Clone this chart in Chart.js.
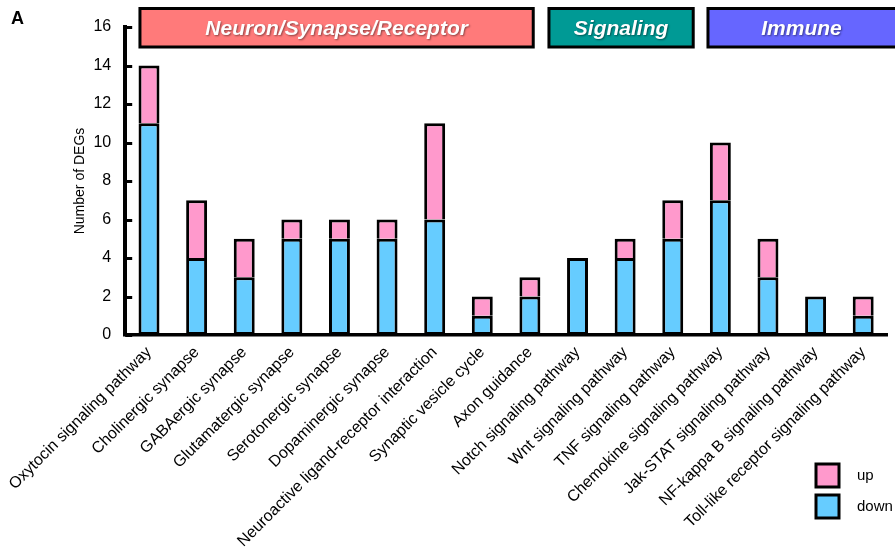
<!DOCTYPE html>
<html>
<head>
<meta charset="utf-8">
<script src="https://cdn.jsdelivr.net/npm/chart.js@4/dist/chart.umd.min.js"></script>
<style>
  html, body { margin: 0; padding: 0; background: #fff; }
  canvas { display: block; }
</style>
</head>
<body>
<canvas id="chart" width="895" height="554"></canvas>
<script>
// KEGG pathways and DEG counts per direction
const categories = [
  'Oxytocin signaling pathway',
  'Cholinergic synapse',
  'GABAergic synapse',
  'Glutamatergic synapse',
  'Serotonergic synapse',
  'Dopaminergic synapse',
  'Neuroactive ligand-receptor interaction',
  'Synaptic vesicle cycle',
  'Axon guidance',
  'Notch signaling pathway',
  'Wnt signaling pathway',
  'TNF signaling pathway',
  'Chemokine signaling pathway',
  'Jak-STAT signaling pathway',
  'NF-kappa B signaling pathway',
  'Toll-like receptor signaling pathway'
];
const downValues = [11, 4, 3, 5, 5, 5, 6, 1, 2, 4, 4, 5, 7, 3, 2, 1];
const upValues   = [3, 3, 2, 1, 1, 1, 5, 1, 1, 0, 1, 2, 3, 2, 0, 1];
const yTickValues = [0, 2, 4, 6, 8, 10, 12, 14, 16];

// Functional groups shown as banners above the bars (spans in category units)
const groupNames  = ['Neuron/Synapse/Receptor', 'Signaling', 'Immune'];
const groupStart  = [-0.19, 8.40, 11.74];
const groupEnd    = [8.07, 11.43, 15.80];
const groupColors = ['#FF7A7A', '#009A95', '#6666FF'];

const seriesNames = ['up', 'down'];
const upColor = '#FF99CC';
const downColor = '#66CCFF';
const FONT = '"Liberation Sans", Arial, Helvetica, sans-serif';

const PLOT_LEFT = 125, PLOT_TOP = 27, PLOT_BOTTOM = 335, PLOT_RIGHT = 887;

// Banners, inward y ticks, panel letter and legend
const decorations = {
  id: 'decorations',
  afterDraw(chart) {
    const ctx = chart.ctx;
    const x = chart.scales.x, y = chart.scales.y;
    const area = chart.chartArea;
    const x0 = x.getPixelForValue(0);
    const step = x.getPixelForValue(1) - x0;

    ctx.save();
    // inward tick marks on the y axis
    ctx.strokeStyle = '#000';
    ctx.lineWidth = 3;
    yTickValues.forEach(v => {
      const py = Math.round(y.getPixelForValue(v)) + 0.5;
      ctx.beginPath();
      ctx.moveTo(area.left, py);
      ctx.lineTo(area.left + 7, py);
      ctx.stroke();
    });

    // group banners
    groupNames.forEach((name, i) => {
      const left = x0 + groupStart[i] * step;
      const right = x0 + groupEnd[i] * step;
      const top = 8.5, h = 38.5;
      ctx.fillStyle = groupColors[i];
      ctx.fillRect(left, top, right - left, h);
      ctx.lineWidth = 3;
      ctx.strokeStyle = '#000';
      ctx.strokeRect(left, top, right - left, h);
      ctx.save();
      ctx.font = 'italic bold 21px ' + FONT;
      ctx.textAlign = 'center';
      ctx.textBaseline = 'middle';
      ctx.shadowColor = 'rgba(0,0,0,0.45)';
      ctx.shadowOffsetX = 1;
      ctx.shadowOffsetY = 1.5;
      ctx.shadowBlur = 2;
      ctx.fillStyle = '#fff';
      ctx.fillText(name, (left + Math.min(right, 895)) / 2, top + h / 2 + 1);
      ctx.restore();
    });

    // panel letter
    ctx.fillStyle = '#000';
    ctx.font = 'bold 18px ' + FONT;
    ctx.textAlign = 'left';
    ctx.textBaseline = 'alphabetic';
    ctx.fillText('A', 11, 24);

    // legend
    const legendItems = [
      { label: seriesNames[0], color: upColor, y: 464 },
      { label: seriesNames[1], color: downColor, y: 495 }
    ];
    legendItems.forEach(item => {
      ctx.fillStyle = item.color;
      ctx.fillRect(816, item.y, 23, 23);
      ctx.lineWidth = 3;
      ctx.strokeStyle = '#000';
      ctx.strokeRect(816, item.y, 23, 23);
      ctx.fillStyle = '#000';
      ctx.font = '15px ' + FONT;
      ctx.textBaseline = 'middle';
      ctx.fillText(item.label, 857, item.y + 12);
    });
    ctx.restore();
  }
};

new Chart(document.getElementById('chart'), {
  type: 'bar',
  data: {
    labels: categories,
    datasets: [
      {
        label: seriesNames[1],
        data: downValues,
        backgroundColor: downColor,
        borderColor: '#000',
        borderWidth: 3,
        borderSkipped: false
      },
      {
        label: seriesNames[0],
        data: upValues,
        backgroundColor: upColor,
        borderColor: '#000',
        borderWidth: 3,
        borderSkipped: 'start'
      }
    ]
  },
  options: {
    responsive: false,
    animation: false,
    devicePixelRatio: 1,
    layout: { padding: { left: 0, top: PLOT_TOP, right: 895 - PLOT_RIGHT, bottom: 0 } },
    datasets: { bar: { barPercentage: 0.44, categoryPercentage: 1 } },
    plugins: { legend: { display: false }, tooltip: { enabled: false } },
    scales: {
      x: {
        stacked: true,
        grid: { display: false, drawTicks: false },
        border: { display: true, color: '#000', width: 3.5 },
        ticks: {
          autoSkip: false,
          minRotation: 45,
          maxRotation: 45,
          padding: 8,
          color: '#000',
          font: { family: FONT, size: 16 }
        },
        afterFit(scale) { scale.height = 554 - PLOT_BOTTOM; }
      },
      y: {
        stacked: true,
        min: 0,
        max: 16,
        afterBuildTicks(scale) { scale.ticks = yTickValues.map(v => ({ value: v })); },
        grid: { display: false, drawTicks: false },
        border: { display: true, color: '#000', width: 4 },
        ticks: {
          padding: 14,
          color: '#000',
          font: { family: FONT, size: 16 }
        },
        title: {
          display: true,
          text: 'Number of DEGs',
          color: '#000',
          font: { family: FONT, size: 14 },
          padding: { top: 72, bottom: 0 }
        },
        afterFit(scale) { scale.width = PLOT_LEFT; }
      }
    }
  },
  plugins: [decorations]
});
</script>
</body>
</html>
